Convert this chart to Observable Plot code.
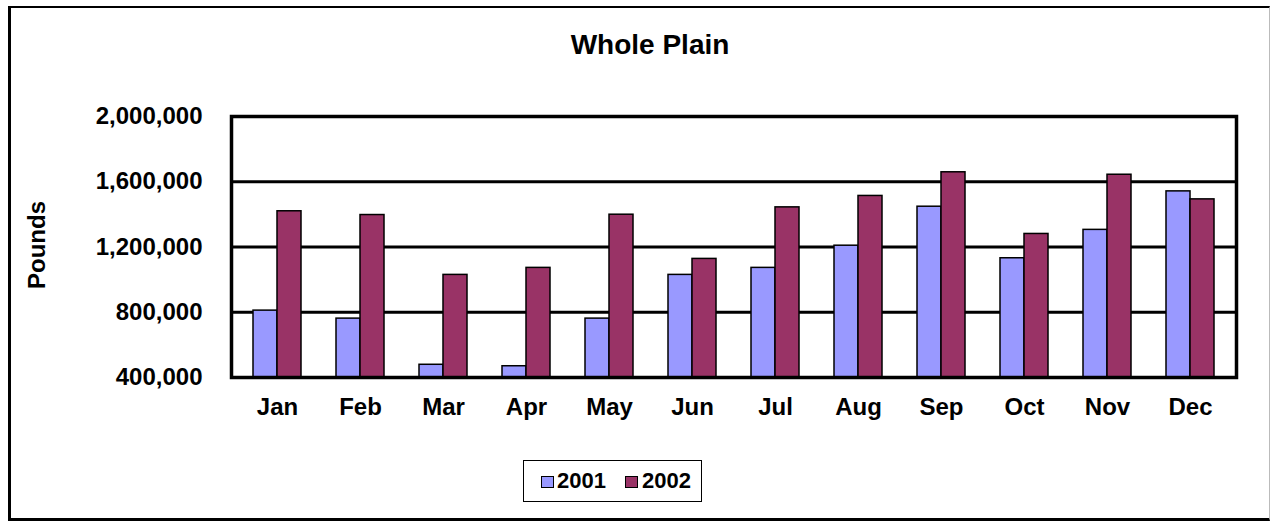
<!DOCTYPE html>
<html>
<head>
<meta charset="utf-8">
<script src="https://cdn.jsdelivr.net/npm/d3@7"></script>
<script src="https://cdn.jsdelivr.net/npm/@observablehq/plot@0.6"></script>
<style>
  html, body { margin: 0; padding: 0; background: #fff; }
  #wrap { position: relative; width: 1271px; height: 522px; overflow: hidden; font-family: "Liberation Sans", Arial, sans-serif; }
  #border { position: absolute; left: 8px; top: 6px; width: 1262px; height: 515px; box-sizing: border-box;
            border-left: 3px solid #000; border-top: 2px solid #000; border-bottom: 3px solid #000; border-right: 1px solid #bbb; pointer-events: none; }
  #chart { position: absolute; left: 0; top: 0; }
  #legend { position: absolute; left: 523px; top: 460px; width: 179px; height: 42px; box-sizing: border-box; border: 1px solid #000; background: #fff; }
  .sw { position: absolute; top: 15px; width: 13px; height: 12px; box-sizing: border-box; border: 1px solid #000; }
  .lt { position: absolute; top: 9px; font-size: 22px; line-height: 22px; font-weight: bold; color: #000; }
</style>
</head>
<body>
<div id="wrap">
  <div id="chart"></div>
  <div id="border"></div>
  <div id="legend"></div>
</div>
<script>
const months = ["Jan", "Feb", "Mar", "Apr", "May", "Jun", "Jul", "Aug", "Sep", "Oct", "Nov", "Dec"];
const pounds2001 = [810000, 761000, 478000, 469000, 761000, 1029000, 1072000, 1208000, 1447000, 1131000, 1305000, 1541000];
const pounds2002 = [1419000, 1396000, 1029000, 1072000, 1398000, 1127000, 1443000, 1513000, 1658000, 1280000, 1643000, 1492000];
const years = ["2001", "2002"];
const colors = ["#9999FF", "#993366"];
const yTicks = [400000, 800000, 1200000, 1600000, 2000000];
const gridLines = [800000, 1200000, 1600000];
const title = "Whole Plain";
const yLabel = "Pounds";

const chart = Plot.plot({
  width: 1271,
  height: 450,
  marginLeft: 231,
  marginRight: 35,
  marginTop: 116,
  marginBottom: 73,
  x: { domain: months, paddingInner: 0.427, paddingOuter: 0.2135, label: null },
  y: { domain: [400000, 2000000], label: null },
  style: { fontFamily: "'Liberation Sans', Arial, sans-serif", fontWeight: "bold", fontSize: "24px", color: "#000", background: "transparent" },
  marks: [
    Plot.ruleY(gridLines, { stroke: "#000", strokeWidth: 3 }),
    Plot.barY(months, { x: d => d, y1: 400000, y2: (d, i) => pounds2001[i], insetRight: 24, fill: colors[0], stroke: "#000", strokeWidth: 1.5 }),
    Plot.barY(months, { x: d => d, y1: 400000, y2: (d, i) => pounds2002[i], insetLeft: 24, fill: colors[1], stroke: "#000", strokeWidth: 1.5 }),
    Plot.frame({ stroke: "#000", strokeWidth: 3.5 }),
    Plot.axisY({ ticks: yTicks, tickSize: 0, tickPadding: 29, tickFormat: d3.format(","), fontSize: 24, fontWeight: "bold" }),
    Plot.axisX({ tickSize: 0, tickPadding: 20, fontSize: 24, fontWeight: "bold" }),
    Plot.text([yLabel], { text: d => d, frameAnchor: "left", textAnchor: "middle", lineAnchor: "middle", dx: -194, dy: -2, rotate: -90, fontSize: 24, fontWeight: "bold" }),
    Plot.text([title], { text: d => d, frameAnchor: "top", textAnchor: "middle", lineAnchor: "middle", dx: -84, dy: -71, fontSize: 28, fontWeight: "bold" })
  ]
});
document.getElementById("chart").appendChild(chart);

const legend = document.getElementById("legend");
const swLeft = [17, 101];
const txtLeft = [33, 118];
years.forEach((y, i) => {
  const sw = document.createElement("div");
  sw.className = "sw";
  sw.style.left = swLeft[i] + "px";
  sw.style.background = colors[i];
  legend.appendChild(sw);
  const t = document.createElement("div");
  t.className = "lt";
  t.style.left = txtLeft[i] + "px";
  t.textContent = y;
  legend.appendChild(t);
});
</script>
</body>
</html>
